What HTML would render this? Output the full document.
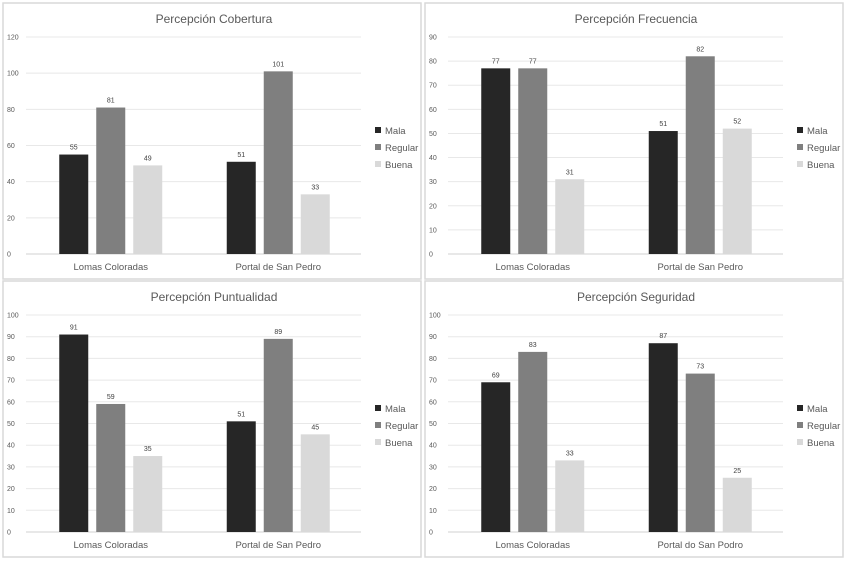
<!DOCTYPE html>
<html><head><meta charset="utf-8"><style>
body{margin:0;background:#fff;width:850px;height:562px;overflow:hidden;font-family:"Liberation Sans",sans-serif}
svg{display:block}
</style></head><body>
<svg id="c" width="850" height="562" xmlns="http://www.w3.org/2000/svg"></svg>
<script>
const titles=["Percepción Cobertura","Percepción Frecuencia","Percepción Puntualidad","Percepción Seguridad"];
const categories=[["Lomas Coloradas","Portal de San Pedro"],["Lomas Coloradas","Portal de San Pedro"],["Lomas Coloradas","Portal de San Pedro"],["Lomas Coloradas","Portal do San Podro"]];
const seriesNames=["Mala","Regular","Buena"];
const malaValues=[[55,51],[77,51],[91,51],[69,87]];
const regularValues=[[81,101],[77,82],[59,89],[83,73]];
const buenaValues=[[49,33],[31,52],[35,45],[33,25]];
const yMaxes=[120,90,100,100];
const yTickSteps=[20,10,10,10];
const colors=["#262626","#7f7f7f","#d9d9d9"];
const NS="http://www.w3.org/2000/svg";
const svg=document.getElementById('c');
function mk(tag,attrs,parent){const e=document.createElementNS(NS,tag);for(const k in attrs)e.setAttribute(k,attrs[k]);(parent||svg).appendChild(e);return e;}
const origins=[[3,3],[425,3],[3,281],[425,281]];
for(let p=0;p<4;p++){
  const [ox,oy]=origins[p];
  const g=mk('g',{transform:`translate(${ox},${oy})`});
  
  
  const bg=mk('rect',{x:0,y:0,width:418,height:276,fill:'#fff',stroke:'#d9d9d9','stroke-width':1.5},g);
  
  
  const t=mk('text',{x:211,y:20,'text-anchor':'middle','font-size':12,fill:'#595959'},g);
  t.textContent=titles[p];
  
  
  const x0=23,x1=358,yT=34,yB=251;
  const ys=v=>yB-(v/yMaxes[p])*(yB-yT);
  for(let v=0;v<=yMaxes[p];v+=yTickSteps[p]){
    const l=mk('line',{x1:x0,x2:x1,y1:ys(v),y2:ys(v),stroke:v===0?'#d0d0d0':'#e8e8e8','stroke-width':1},g);
    
    
    const tx=mk('text',{x:4,y:ys(v)+2.5,'font-size':7,fill:'#595959'},g);
    tx.textContent=v;
    
    
  }
  const catW=(x1-x0)/2;
  const allVals=[malaValues[p],regularValues[p],buenaValues[p]];
  for(let c=0;c<2;c++){
    const cx=x0+catW*(c+0.5)+1;
    for(let s=0;s<3;s++){
      const v=allVals[s][c];
      const bx=cx+(s-1)*37-14.5;
      const r=mk('rect',{x:bx,y:ys(v),width:29,height:yB-ys(v),fill:colors[s]},g);
      
      
      const lb=mk('text',{x:bx+14.5,y:ys(v)-5,'text-anchor':'middle','font-size':7,fill:'#404040'},g);
      lb.textContent=v;
      
      
    }
    const cl=mk('text',{x:cx,y:yB+16,'text-anchor':'middle','font-size':9.5,fill:'#595959'},g);
    cl.textContent=categories[p][c];
    
    
  }
  for(let s=0;s<3;s++){
    const ly=130+s*17;
    const sq=mk('rect',{x:372,y:ly-6,width:6,height:6,fill:colors[s]},g);
    
    
    const lt=mk('text',{x:382,y:ly+1,'font-size':9.5,fill:'#595959'},g);
    lt.textContent=seriesNames[s];
    
    
  }
}
</script>
</body></html>
